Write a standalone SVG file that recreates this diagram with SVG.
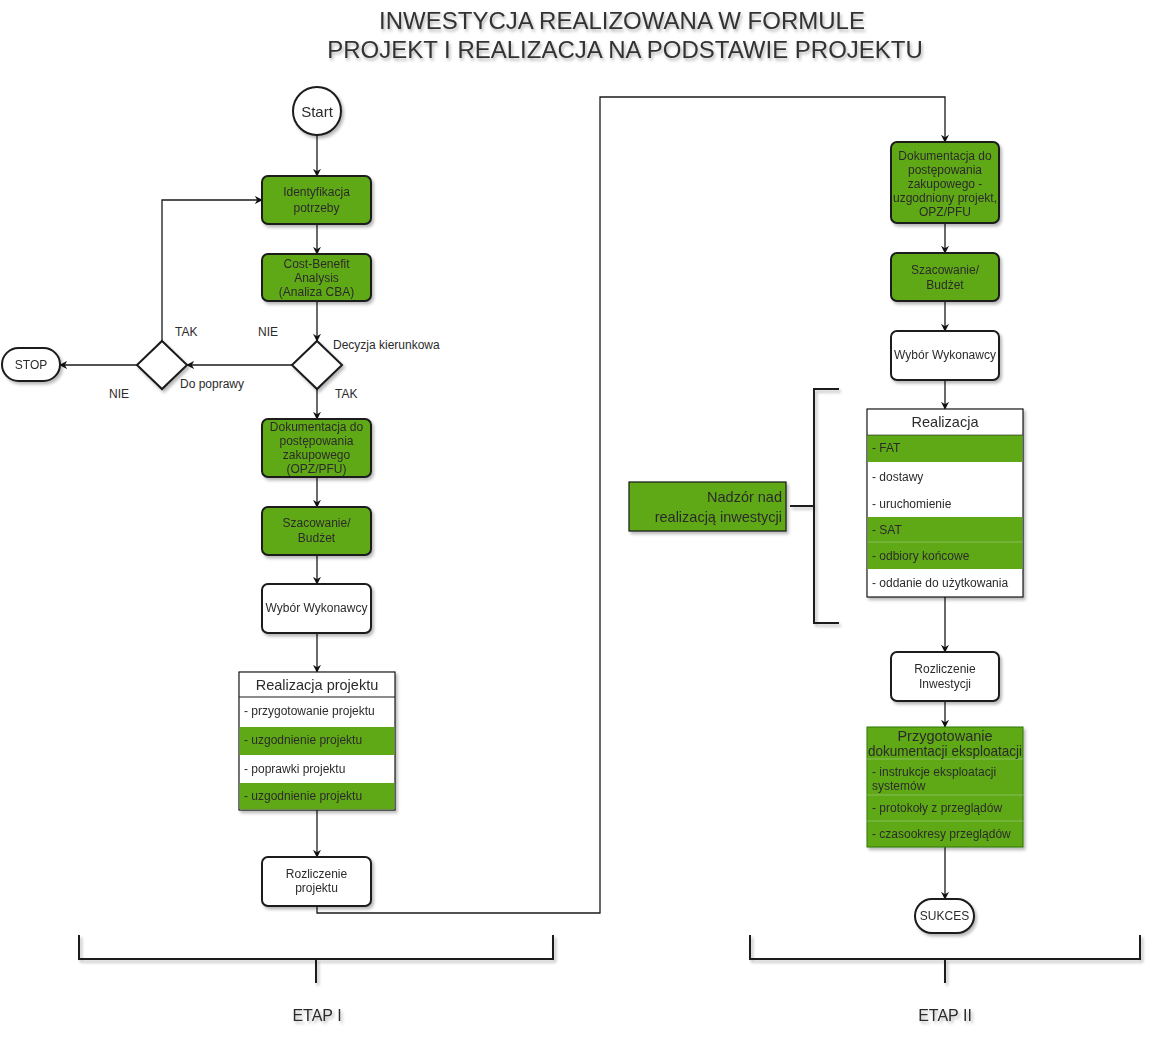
<svg xmlns="http://www.w3.org/2000/svg" width="1152" height="1043" viewBox="0 0 1152 1043">
<defs>
<filter id="sh" x="-20%" y="-20%" width="140%" height="140%"><feDropShadow dx="2" dy="2.5" stdDeviation="1.5" flood-color="#000" flood-opacity="0.28"/></filter>
<filter id="tsh" x="-5%" y="-20%" width="110%" height="160%"><feDropShadow dx="1.5" dy="2.5" stdDeviation="1.5" flood-color="#000" flood-opacity="0.3"/></filter>
<marker id="arr" viewBox="0 0 10 10" refX="9" refY="5" markerWidth="8" markerHeight="8" markerUnits="userSpaceOnUse" orient="auto"><path d="M0,0 L10,5 L0,10 L3,5 Z" fill="#111"/></marker>
</defs>
<style>
text{font-family:"Liberation Sans",Arial,sans-serif;fill:#2b2b2b;}
.t{font-size:12px;text-anchor:middle;}
.l{font-size:12px;}
.h{font-size:14.5px;text-anchor:middle;}
.g{fill:#60a917;stroke:#1a1a1a;stroke-width:2;}
.w{fill:#fff;stroke:#1a1a1a;stroke-width:2;}
.tb{fill:#fff;stroke:#1a1a1a;stroke-width:1.2;}
.gr{fill:#60a917;stroke:none;}
.sep{stroke:#8fc46a;stroke-width:0.8;}
.c{fill:none;stroke:#1a1a1a;stroke-width:1.3;}
.br{fill:none;stroke:#1a1a1a;stroke-width:2;}
.title{font-size:24px;text-anchor:middle;fill:#333;}
.etap{font-size:16px;text-anchor:middle;}
</style>

<g id="title" filter="url(#tsh)">
<text class="title" x="622" y="29">INWESTYCJA REALIZOWANA W FORMULE</text>
<text class="title" x="625" y="58">PROJEKT I REALIZACJA NA PODSTAWIE PROJEKTU</text>
</g>

<g id="connectors">
<line class="c" x1="317" y1="135" x2="317" y2="176" marker-end="url(#arr)"/>
<line class="c" x1="317" y1="224" x2="317" y2="254" marker-end="url(#arr)"/>
<line class="c" x1="317" y1="301" x2="317" y2="341" marker-end="url(#arr)"/>
<line class="c" x1="292" y1="365" x2="187" y2="365" marker-end="url(#arr)"/>
<line class="c" x1="137" y1="365" x2="60" y2="365" marker-end="url(#arr)"/>
<polyline class="c" points="162,341 162,200 262,200" marker-end="url(#arr)"/>
<line class="c" x1="317" y1="389" x2="317" y2="419" marker-end="url(#arr)"/>
<line class="c" x1="317" y1="477" x2="317" y2="507" marker-end="url(#arr)"/>
<line class="c" x1="317" y1="555" x2="317" y2="584" marker-end="url(#arr)"/>
<line class="c" x1="317" y1="633" x2="317" y2="672" marker-end="url(#arr)"/>
<line class="c" x1="317" y1="810" x2="317" y2="857" marker-end="url(#arr)"/>
<polyline class="c" points="317,906 317,913 600,913 600,97 945,97 945,142" marker-end="url(#arr)"/>
<line class="c" x1="945" y1="223" x2="945" y2="253" marker-end="url(#arr)"/>
<line class="c" x1="945" y1="301" x2="945" y2="331" marker-end="url(#arr)"/>
<line class="c" x1="945" y1="380" x2="945" y2="409" marker-end="url(#arr)"/>
<line class="c" x1="945" y1="597" x2="945" y2="652" marker-end="url(#arr)"/>
<line class="c" x1="945" y1="701" x2="945" y2="727" marker-end="url(#arr)"/>
<line class="c" x1="945" y1="847" x2="945" y2="899" marker-end="url(#arr)"/>
</g>

<g id="labels">
<text class="l" x="175" y="336">TAK</text>
<text class="l" x="258" y="336">NIE</text>
<text class="l" x="333" y="349">Decyzja kierunkowa</text>
<text class="l" x="180" y="388">Do poprawy</text>
<text class="l" x="109" y="398">NIE</text>
<text class="l" x="335" y="398">TAK</text>
</g>

<g id="start" filter="url(#sh)">
<circle class="w" cx="317" cy="111" r="24"/>
<text x="317" y="117" style="font-size:15px;text-anchor:middle">Start</text>
</g>

<g id="identyfikacja" filter="url(#sh)">
<rect class="g" x="262" y="176" width="109" height="48" rx="6"/>
<text class="t" x="316.5" y="196">Identyfikacja</text>
<text class="t" x="316.5" y="212">potrzeby</text>
</g>

<g id="cba" filter="url(#sh)">
<rect class="g" x="262" y="254" width="109" height="47" rx="6"/>
<text class="t" x="316.5" y="268">Cost-Benefit</text>
<text class="t" x="316.5" y="282">Analysis</text>
<text class="t" x="316.5" y="296">(Analiza CBA)</text>
</g>

<g id="decyzja" filter="url(#sh)">
<polygon class="w" points="317,341 342,365 317,389 292,365"/>
</g>

<g id="poprawa" filter="url(#sh)">
<polygon class="w" points="162,341 187,365 162,389 137,365"/>
</g>

<g id="stop" filter="url(#sh)">
<rect class="w" x="2" y="348" width="58" height="33" rx="16.5"/>
<text class="t" x="31" y="369">STOP</text>
</g>

<g id="dokumentacja1" filter="url(#sh)">
<rect class="g" x="262" y="419" width="109" height="58" rx="6"/>
<text class="t" x="316.5" y="431">Dokumentacja do</text>
<text class="t" x="316.5" y="445">postępowania</text>
<text class="t" x="316.5" y="459">zakupowego</text>
<text class="t" x="316.5" y="473">(OPZ/PFU)</text>
</g>

<g id="szacowanie1" filter="url(#sh)">
<rect class="g" x="262" y="507" width="109" height="48" rx="6"/>
<text class="t" x="316.5" y="527">Szacowanie/</text>
<text class="t" x="316.5" y="542">Budżet</text>
</g>

<g id="wybor1" filter="url(#sh)">
<rect class="w" x="262" y="584" width="109" height="49" rx="6"/>
<text class="t" x="316.5" y="612">Wybór Wykonawcy</text>
</g>

<g id="realizacja-projektu" filter="url(#sh)">
<rect class="tb" x="239" y="672" width="156" height="138"/>
<rect class="gr" x="239.6" y="727" width="154.8" height="28"/>
<rect class="gr" x="239.6" y="783" width="154.8" height="26.4"/>
<line x1="239" y1="697" x2="395" y2="697" stroke="#1a1a1a" stroke-width="1"/>
<text class="h" x="317" y="690">Realizacja projektu</text>
<text class="l" x="244" y="715">- przygotowanie projektu</text>
<text class="l" x="244" y="744">- uzgodnienie projektu</text>
<text class="l" x="244" y="773">- poprawki projektu</text>
<text class="l" x="244" y="800">- uzgodnienie projektu</text>
</g>

<g id="rozliczenie-projektu" filter="url(#sh)">
<rect class="w" x="262" y="857" width="109" height="49" rx="6"/>
<text class="t" x="316.5" y="878">Rozliczenie</text>
<text class="t" x="316.5" y="892">projektu</text>
</g>

<g id="dokumentacja2" filter="url(#sh)">
<rect class="g" x="891" y="142" width="108" height="81" rx="6"/>
<text class="t" x="945" y="160">Dokumentacja do</text>
<text class="t" x="945" y="174">postępowania</text>
<text class="t" x="945" y="188">zakupowego -</text>
<text class="t" x="945" y="202">uzgodniony projekt,</text>
<text class="t" x="945" y="216">OPZ/PFU</text>
</g>

<g id="szacowanie2" filter="url(#sh)">
<rect class="g" x="891" y="253" width="108" height="48" rx="6"/>
<text class="t" x="945" y="274">Szacowanie/</text>
<text class="t" x="945" y="289">Budżet</text>
</g>

<g id="wybor2" filter="url(#sh)">
<rect class="w" x="891" y="331" width="108" height="49" rx="6"/>
<text class="t" x="945" y="359">Wybór Wykonawcy</text>
</g>

<g id="realizacja" filter="url(#sh)">
<rect class="tb" x="867" y="409" width="156" height="188"/>
<rect class="gr" x="867.6" y="435" width="154.8" height="27"/>
<rect class="gr" x="867.6" y="517" width="154.8" height="52"/>
<line class="sep" x1="867.6" y1="542" x2="1022.4" y2="542"/>
<line x1="867" y1="435" x2="1023" y2="435" stroke="#1a1a1a" stroke-width="0.6"/>
<text class="h" x="945" y="427">Realizacja</text>
<text class="l" x="872" y="452">- FAT</text>
<text class="l" x="872" y="481">- dostawy</text>
<text class="l" x="872" y="508">- uruchomienie</text>
<text class="l" x="872" y="534">- SAT</text>
<text class="l" x="872" y="560">- odbiory końcowe</text>
<text class="l" x="872" y="587">- oddanie do użytkowania</text>
</g>

<g id="nadzor" filter="url(#sh)">
<rect x="629" y="482" width="157" height="49" fill="#60a917" stroke="#1a1a1a" stroke-width="1.2"/>
<text x="782" y="502" style="font-size:14.5px;text-anchor:end">Nadzór nad</text>
<text x="782" y="522" style="font-size:14.5px;text-anchor:end">realizacją inwestycji</text>
</g>

<g id="bracket-nadzor" filter="url(#sh)">
<polyline class="br" points="839,389 814,389 814,623 839,623"/>
<line class="br" x1="790" y1="506" x2="814" y2="506"/>
</g>

<g id="rozliczenie-inwestycji" filter="url(#sh)">
<rect class="w" x="891" y="652" width="108" height="49" rx="6"/>
<text class="t" x="945" y="673">Rozliczenie</text>
<text class="t" x="945" y="688">Inwestycji</text>
</g>

<g id="dokumentacja-eksploatacji" filter="url(#sh)">
<rect x="867" y="727" width="156" height="120" fill="#60a917" stroke="#2d7600" stroke-width="1"/>
<line class="sep" x1="867" y1="759" x2="1023" y2="759"/>
<line class="sep" x1="867" y1="795" x2="1023" y2="795"/>
<line class="sep" x1="867" y1="821" x2="1023" y2="821"/>
<text class="h" x="945" y="741">Przygotowanie</text>
<text class="h" x="945" y="756" textLength="154" lengthAdjust="spacingAndGlyphs">dokumentacji eksploatacji</text>
<text class="l" x="872" y="776">- instrukcje eksploatacji</text>
<text class="l" x="872" y="790">systemów</text>
<text class="l" x="872" y="812">- protokoły z przeglądów</text>
<text class="l" x="872" y="838">- czasookresy przeglądów</text>
</g>

<g id="sukces" filter="url(#sh)">
<rect class="w" x="915" y="899" width="59" height="34" rx="17"/>
<text class="t" x="944.5" y="920">SUKCES</text>
</g>

<g id="etap1" filter="url(#sh)">
<polyline class="br" points="79,935 79,959 553,959 553,935"/>
<line class="br" x1="316" y1="959" x2="316" y2="983"/>
<text class="etap" x="317" y="1021">ETAP I</text>
</g>

<g id="etap2" filter="url(#sh)">
<polyline class="br" points="750,935 750,959 1140,959 1140,935"/>
<line class="br" x1="945" y1="959" x2="945" y2="983"/>
<text class="etap" x="945" y="1021">ETAP II</text>
</g>
</svg>
